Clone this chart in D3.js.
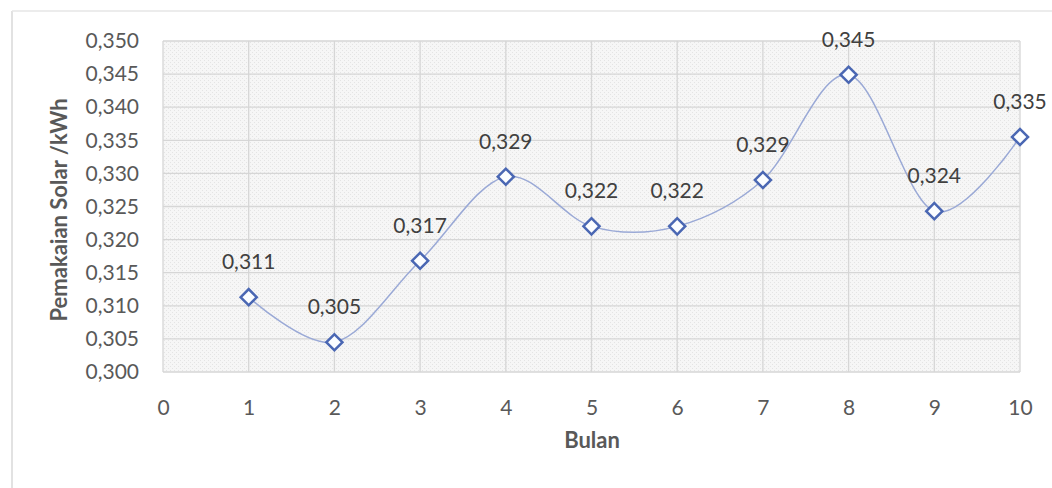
<!DOCTYPE html>
<html><head><meta charset="utf-8">
<script src="https://cdn.jsdelivr.net/npm/d3@7"></script>
<style>body{margin:0;background:#fff}svg{display:block}</style>
</head><body>
<script>
const months = [1,2,3,4,5,6,7,8,9,10];
const values = [0.3113,0.3045,0.3168,0.3295,0.3220,0.3220,0.3290,0.3449,0.3243,0.3355];
const labels = ["0,311","0,305","0,317","0,329","0,322","0,322","0,329","0,345","0,324","0,335"];
const xTicks = [0,1,2,3,4,5,6,7,8,9,10];
const yTicks = [0.300,0.305,0.310,0.315,0.320,0.325,0.330,0.335,0.340,0.345,0.350];

const W=1052,H=488;
const svg=d3.select("body").append("svg").attr("width",W).attr("height",H);
const font="Lato, 'Open Sans', sans-serif";
const m={l:163,r:1020,t:41,b:372};
const x=d3.scaleLinear().domain([0,10]).range([m.l,m.r]);
const y=d3.scaleLinear().domain([0.300,0.350]).range([m.b,m.t]);

// chart border (left & top)
svg.append("line").attr("x1",12).attr("x2",12).attr("y1",11).attr("y2",H).attr("stroke","#d9d9d9").attr("stroke-width",1.5);
svg.append("line").attr("x1",12).attr("x2",W).attr("y1",11).attr("y2",11).attr("stroke","#e6e6e6").attr("stroke-width",1.5);

// hatch pattern
const defs=svg.append("defs");
const pat=defs.append("pattern").attr("id","dots").attr("width",4).attr("height",4).attr("patternUnits","userSpaceOnUse");
pat.append("rect").attr("width",4).attr("height",4).attr("fill","#f6f6f6");
pat.append("rect").attr("width",1).attr("height",1).attr("fill","#e4e4e4");
pat.append("rect").attr("x",2).attr("y",2).attr("width",1).attr("height",1).attr("fill","#e4e4e4");
svg.append("rect").attr("x",m.l).attr("y",m.t).attr("width",m.r-m.l).attr("height",m.b-m.t).attr("fill","url(#dots)");

// grid
svg.append("g").selectAll("line").data(yTicks).join("line")
 .attr("x1",m.l).attr("x2",m.r).attr("y1",d=>y(d)).attr("y2",d=>y(d))
 .attr("stroke","#d6d6d6").attr("stroke-width",1.3);
svg.append("g").selectAll("line").data(xTicks).join("line")
 .attr("x1",d=>x(d)).attr("x2",d=>x(d)).attr("y1",m.t).attr("y2",m.b)
 .attr("stroke","#d6d6d6").attr("stroke-width",1.3);

// axes labels
const yAxis=d3.axisLeft(y).tickValues(yTicks).tickSize(0).tickPadding(24).tickFormat(d=>d3.format(".3f")(d).replace(".",","));
const gy=svg.append("g").attr("transform",`translate(${m.l},0)`).call(yAxis);
gy.select(".domain").remove();
gy.selectAll("text").attr("font-family",font).attr("font-size",21).attr("fill","#595959");
const xAxis=d3.axisBottom(x).tickValues(xTicks).tickSize(0).tickPadding(28).tickFormat(d3.format("d"));
const gx=svg.append("g").attr("transform",`translate(0,${m.b})`).call(xAxis);
gx.select(".domain").remove();
gx.selectAll("text").attr("font-family",font).attr("font-size",21).attr("fill","#595959");

// titles
svg.append("text").attr("x",592).attr("y",448).attr("text-anchor","middle")
 .attr("font-family",font).attr("font-size",22).attr("font-weight","bold").attr("fill","#595959").text("Bulan");
svg.append("text").attr("transform","translate(67,210) rotate(-90)").attr("text-anchor","middle")
 .attr("font-family",font).attr("font-size",22).attr("font-weight","bold").attr("fill","#595959").text("Pemakaian Solar /kWh");

// line
const pts=months.map((mo,i)=>[mo,values[i]]);
const line=d3.line().x(d=>x(d[0])).y(d=>y(d[1])).curve(d3.curveCardinal.tension(0));
svg.append("path").datum(pts).attr("d",line).attr("fill","none").attr("stroke","#9aa9d6").attr("stroke-width",1.5);

// markers
const sym=d3.symbol().type(d3.symbolSquare).size(130);
svg.append("g").selectAll("path").data(pts).join("path")
 .attr("d",sym).attr("transform",d=>`translate(${x(d[0])},${y(d[1])}) rotate(45)`)
 .attr("fill","#fbfdff").attr("stroke","#4a67b3").attr("stroke-width",2.5);

// data labels
svg.append("g").selectAll("text").data(pts).join("text")
 .attr("x",d=>x(d[0])).attr("y",d=>y(d[1])-28).attr("text-anchor","middle")
 .attr("font-family",font).attr("font-size",21).attr("fill","#404040")
 .text((d,i)=>labels[i]);
</script>
</body></html>
